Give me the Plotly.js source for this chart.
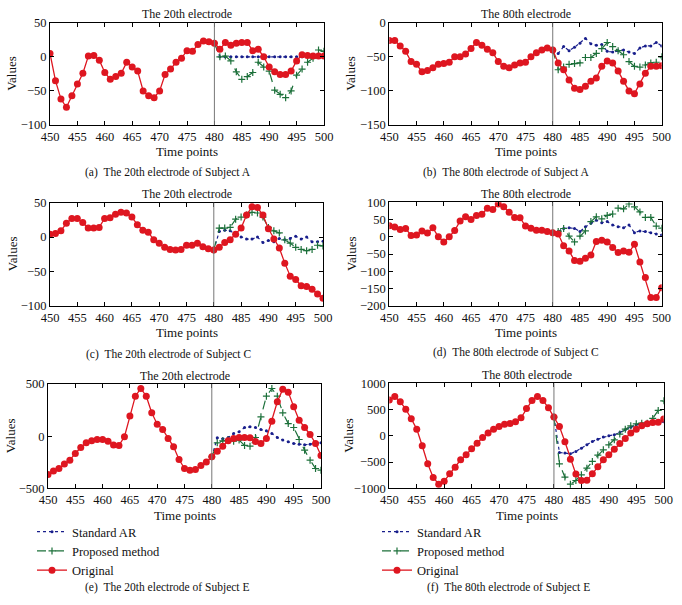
<!DOCTYPE html>
<html>
<head>
<meta charset="utf-8">
<script src="https://cdn.plot.ly/plotly-3.0.1.min.js"></script>
<style>
  html, body { margin: 0; padding: 0; background: #fff; }
  #chart { width: 682px; height: 605px; }
</style>
</head>
<body>
<div id="chart"></div>
<script>
// time axis
const timeFull = [450, 451, 452, 453, 454, 455, 456, 457, 458, 459, 460, 461, 462, 463, 464, 465, 466,
  467, 468, 469, 470, 471, 472, 473, 474, 475, 476, 477, 478, 479, 480, 481, 482, 483, 484, 485, 486,
  487, 488, 489, 490, 491, 492, 493, 494, 495, 496, 497, 498, 499, 500];
const timePred = [480, 481, 482, 483, 484, 485, 486, 487, 488, 489, 490, 491, 492, 493, 494, 495, 496,
  497, 498, 499, 500];
const splitPoint = 480;

const seriesNames = ['Standard AR', 'Proposed method', 'Original'];

// (a) Subject A, 20th electrode
const origA20 = [5, -35, -62, -74, -57, -40, -24, 1, 2, -5, -23, -33, -29, -24, -8, -15, -21, -50, -57, -60,
  -50, -26, -18, -8, -2, 9, 8, 18, 23, 22, 20, 11, 21, 17, 20, 21, 21, 9, 11, 0,
  -15, -22, -26, -26, -21, -6, 3, 2, 1, 1, 1];
const propA20 = [20, 0, 1, -6, -22, -33, -29, -23, -8, -15, -21, -49, -55, -60, -50, -27, -18, -8, -2, 10, 8];
const arA20 = [20, 0, 0, 0, 0, 0, 0, 0, 0, 0, 0, 0, 0, 0, 0, 0, 0, 0, 0, 0, 0];

// (b) Subject A, 80th electrode
const origA80 = [-26, -26, -34, -42, -57, -61, -72, -70, -66, -61, -60, -58, -50, -50, -46, -38, -29, -33, -39, -44,
  -57, -64, -66, -62, -59, -58, -50, -44, -40, -37, -40, -59, -69, -84, -96, -98, -93, -86, -81, -64,
  -56, -59, -71, -86, -100, -104, -90, -74, -64, -64, -63];
const propA80 = [-40, -69, -65, -61, -60, -59, -51, -51, -45, -38, -29, -35, -41, -47, -57, -64, -65, -62, -59, -58, -50];
const arA80 = [-40, -45, -35, -41, -36, -30, -23, -31, -33, -32, -42, -43, -41, -40, -43, -45, -37, -34, -34, -29, -34];

// (c) Subject C, 20th electrode
const origC20 = [4, 5, 9, 20, 27, 27, 21, 13, 13, 14, 27, 28, 33, 36, 35, 29, 18, 10, 7, -4,
  -9, -15, -18, -19, -18, -12, -12, -9, -14, -17, -19, -15, -8, -4, 4, 13, 32, 44, 43, 32,
  12, -3, -16, -38, -57, -62, -71, -72, -76, -83, -89];
const propC20 = [-19, 13, 13, 14, 26, 29, 32, 36, 35, 29, 14, 9, 6, -4, -9, -15, -18, -20, -18, -12, -13];
const arC20 = [-19, 8, 10, 9, 4, 0, -3, -3, 0, -8, -5, -7, -2, -4, -2, 1, -3, 0, -7, -7, -6];

// (d) Subject C, 80th electrode
const origC80 = [32, 28, 21, 24, 4, 5, 17, 11, 26, 0, -15, 0, 18, 46, 58, 50, 62, 65, 83, 79,
  95, 87, 71, 56, 55, 31, 25, 19, 19, 15, 12, 8, -26, -41, -69, -71, -62, -53, -14, -10,
  -15, -31, -46, -41, -45, -22, -73, -118, -176, -176, -148];
const propC80 = [12, 15, 24, 2, -15, 2, 17, 44, 58, 52, 62, 66, 83, 81, 95, 87, 72, 56, 56, 31, 25];
const arC80 = [12, 15, 24, 26, 24, 15, 29, 39, 48, 41, 44, 34, 29, 26, 34, 12, 17, 15, 12, 8, 5];

// (e) Subject E, 20th electrode
const origE20 = [-367, -335, -310, -268, -230, -166, -109, -64, -45, -32, -32, -48, -86, -89, -6, 192, 383, 457, 383, 224,
  115, 64, -22, -102, -224, -310, -326, -319, -281, -249, -198, -144, -96, -45, -22, -13, -13, -16, -51, -70,
  -22, 144, 329, 450, 422, 281, 153, 83, 16, -70, -185];
const propE20 = [-198, -64, -45, -38, -48, -38, -89, -96, -13, 185, 383, 457, 383, 224, 121, 83, -32, -134, -230, -310, -326];
const arE20 = [-198, -16, -26, -13, 26, 42, 83, 89, 83, 64, 51, 26, -13, -38, -54, -70, -77, -83, -77, -64, -64];

// (f) Subject E, 80th electrode
const origE80 = [680, 749, 648, 508, 324, 127, -190, -533, -794, -921, -864, -724, -597, -457, -362, -248, -140, -32, 51, 127,
  178, 222, 235, 267, 343, 521, 673, 749, 673, 533, 356, 178, -114, -445, -730, -851, -845, -724, -591, -457,
  -362, -254, -146, -51, 51, 127, 190, 229, 254, 260, 318];
const propE80 = [356, -533, -787, -921, -851, -743, -616, -489, -368, -267, -171, -76, 32, 127, 190, 229, 241, 241, 330, 483, 667];
const arE80 = [356, -318, -330, -343, -298, -235, -171, -108, -64, -25, 0, 19, 64, 114, 165, 210, 229, 229, 254, 267, 267];

const W = 682;
const H = 605;
const px = (v) => v / W;
const py = (v) => 1 - v / H;

const serif = 'Liberation Serif, Times New Roman, serif';
const red = 'rgb(222, 22, 32)';
const green = 'rgb(28, 112, 58)';
const blue = 'rgb(24, 30, 140)';

// box = [left, right, top, bottom] in pixels
const panels = [
  { orig: origA20, prop: propA20, ar: arA20, yRange: [-100, 50], dtick: 50, box: [50, 324, 22.7, 125],
    title: 'The 20th electrode', caption: '(a)\u00a0\u00a0The 20th electrode of Subject A', capX: 168, capY: 172.7, yLabX: 12 },
  { orig: origA80, prop: propA80, ar: arA80, yRange: [-150, 0], dtick: 50, box: [389.3, 661.7, 22.7, 125],
    title: 'The 80th electrode', caption: '(b)\u00a0\u00a0The 80th electrode of Subject A', capX: 506, capY: 172.7, yLabX: 351 },
  { orig: origC20, prop: propC20, ar: arC20, yRange: [-100, 50], dtick: 50, box: [50, 323, 202.7, 305.7],
    title: 'The 20th electrode', caption: '(c)\u00a0\u00a0The 20th electrode of Subject C', capX: 168, capY: 354, yLabX: 12 },
  { orig: origC80, prop: propC80, ar: arC80, yRange: [-200, 100], dtick: 50, box: [389.3, 661.7, 202.3, 305.7],
    title: 'The 80th electrode', caption: '(d)\u00a0\u00a0The 80th electrode of Subject C', capX: 516, capY: 352.7, yLabX: 351 },
  { orig: origE20, prop: propE20, ar: arE20, yRange: [-500, 500], dtick: 500, box: [48, 321, 384, 488.3],
    title: 'The 20th electrode', caption: '(e)\u00a0\u00a0The 20th electrode of Subject E', capX: 167, capY: 587, yLabX: 10 },
  { orig: origE80, prop: propE80, ar: arE80, yRange: [-1000, 1000], dtick: 500, box: [389.3, 663.7, 383.3, 488.3],
    title: 'The 80th electrode', caption: '(f)\u00a0\u00a0The 80th electrode of Subject E', capX: 508, capY: 587, yLabX: 349 },
];

const traces = [];
const annotations = [];
const shapes = [];
const layout = {
  width: W,
  height: H,
  margin: { l: 0, r: 0, t: 0, b: 0 },
  paper_bgcolor: '#fff',
  plot_bgcolor: '#fff',
  font: { family: serif, size: 12, color: '#111' },
  showlegend: true,
};

panels.forEach((p, i) => {
  const n = i + 1;
  const xa = n === 1 ? 'x' : 'x' + n;
  const ya = n === 1 ? 'y' : 'y' + n;
  const [l, r, t, b] = p.box;
  const inLegend = i >= 4;
  const legendId = i === 5 ? 'legend2' : 'legend';

  traces.push({
    x: timePred, y: p.ar, xaxis: xa, yaxis: ya,
    type: 'scatter', mode: 'lines+markers', name: seriesNames[0],
    line: { color: blue, width: 1.2, dash: 'dot' },
    marker: { color: blue, size: 3 },
    showlegend: inLegend, legend: legendId,
  });
  traces.push({
    x: timePred, y: p.prop, xaxis: xa, yaxis: ya,
    type: 'scatter', mode: 'lines+markers', name: seriesNames[1],
    line: { color: green, width: 1.2, dash: 'dash' },
    marker: { color: green, size: 5, symbol: 'cross-thin-open', line: { color: green, width: 1.2 } },
    showlegend: inLegend, legend: legendId,
  });
  traces.push({
    x: timeFull, y: p.orig, xaxis: xa, yaxis: ya,
    type: 'scatter', mode: 'lines+markers', name: seriesNames[2],
    line: { color: red, width: 1.3 },
    marker: { color: red, size: 7 },
    showlegend: inLegend, legend: legendId,
  });

  layout['xaxis' + (n === 1 ? '' : n)] = {
    domain: [px(l), px(r)], anchor: ya,
    range: [450, 500], tick0: 450, dtick: 5,
    showgrid: false, zeroline: false,
    showline: true, linecolor: '#000', linewidth: 1, mirror: 'ticks',
    ticks: 'inside', ticklen: 4, tickcolor: '#000',
    tickfont: { family: serif, size: 12.5, color: '#111' },
  };
  layout['yaxis' + (n === 1 ? '' : n)] = {
    domain: [py(b), py(t)], anchor: xa,
    range: p.yRange, tick0: p.yRange[0], dtick: p.dtick,
    showgrid: false, zeroline: false,
    showline: true, linecolor: '#000', linewidth: 1, mirror: 'ticks',
    ticks: 'inside', ticklen: 4, tickcolor: '#000',
    tickfont: { family: serif, size: 12.5, color: '#111' },
  };

  shapes.push({
    type: 'line', xref: xa, yref: ya + ' domain',
    x0: splitPoint, x1: splitPoint, y0: 0, y1: 1,
    line: { color: '#777', width: 1 },
  });

  const cx = (l + r) / 2;
  annotations.push({
    text: p.title, xref: 'paper', yref: 'paper', x: px(cx), y: py(t - 8.5),
    xanchor: 'center', yanchor: 'middle', showarrow: false,
    font: { family: serif, size: 12, color: '#111' },
  });
  annotations.push({
    text: 'Time points', xref: 'paper', yref: 'paper', x: px(cx), y: py(b + 27),
    xanchor: 'center', yanchor: 'middle', showarrow: false,
    font: { family: serif, size: 13, color: '#111' },
  });
  annotations.push({
    text: 'Values', xref: 'paper', yref: 'paper', x: px(p.yLabX), y: py((t + b) / 2),
    xanchor: 'center', yanchor: 'middle', showarrow: false, textangle: -90,
    font: { family: serif, size: 13, color: '#111' },
  });
  annotations.push({
    text: p.caption, xref: 'paper', yref: 'paper', x: px(p.capX), y: py(p.capY),
    xanchor: 'center', yanchor: 'middle', showarrow: false,
    font: { family: serif, size: 11.5, color: '#111' },
  });
});

layout.annotations = annotations;
layout.shapes = shapes;
layout.legend = {
  x: px(32), y: py(517), xanchor: 'left', yanchor: 'top',
  bgcolor: 'rgba(0,0,0,0)', font: { family: serif, size: 12.5, color: '#111' },
  traceorder: 'normal',
};
layout.legend2 = {
  x: px(377), y: py(517), xanchor: 'left', yanchor: 'top',
  bgcolor: 'rgba(0,0,0,0)', font: { family: serif, size: 12.5, color: '#111' },
  traceorder: 'normal',
};

Plotly.newPlot('chart', traces, layout, { displayModeBar: false, staticPlot: true });
</script>
</body>
</html>
